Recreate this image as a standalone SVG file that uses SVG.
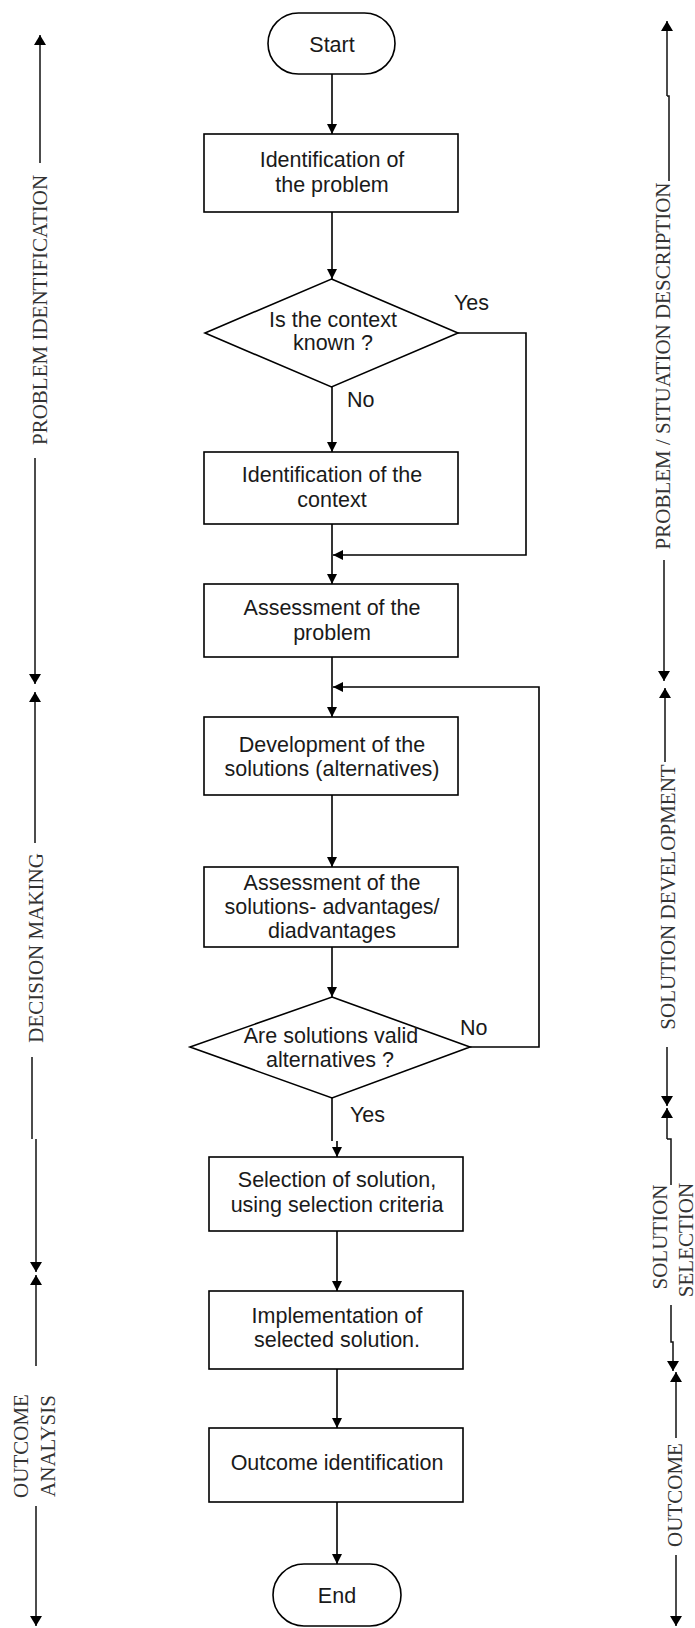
<svg xmlns="http://www.w3.org/2000/svg" width="695" height="1628" viewBox="0 0 695 1628">
<defs>
<marker id="ah" markerUnits="userSpaceOnUse" markerWidth="10" markerHeight="10" refX="10" refY="5" orient="auto"><path d="M0,0 L10,5 L0,10 z" fill="#000"/></marker>
<marker id="sh" markerUnits="userSpaceOnUse" markerWidth="10" markerHeight="12" refX="10" refY="6" orient="auto"><path d="M0,0 L10,6 L0,12 z" fill="#000"/></marker>
<style>
.n{fill:#fff;stroke:#000;stroke-width:1.6}
.t{font-family:"Liberation Sans",Arial,sans-serif;font-size:21.5px;fill:#1a1a1a;text-anchor:middle}
.l{font-family:"Liberation Sans",Arial,sans-serif;font-size:21.5px;fill:#1a1a1a}
.c{fill:none;stroke:#000;stroke-width:1.6}
.a{marker-end:url(#ah)}
.s{fill:none;stroke:#111;stroke-width:1.5}
.sa{marker-end:url(#sh)}
.st{font-family:"Liberation Serif","Times New Roman",serif;font-size:21px;fill:#333;text-anchor:middle}
</style>
</defs>
<g id="start"><rect class="n" x="268" y="13" width="127" height="61" rx="30.5"/><text class="t" x="332" y="52">Start</text></g>
<g id="identify-problem"><rect class="n" x="204" y="134" width="254" height="78"/><text class="t" x="332" y="167">Identification of</text><text class="t" x="332" y="192">the problem</text></g>
<g id="context-known"><polygon class="n" points="331.5,279 458,333 331.5,387 205,333"/><text class="t" x="333" y="327">Is the context</text><text class="t" x="333" y="350">known ?</text></g>
<g id="identify-context"><rect class="n" x="204" y="452" width="254" height="72"/><text class="t" x="332" y="482">Identification of the</text><text class="t" x="332" y="507">context</text></g>
<g id="assess-problem"><rect class="n" x="204" y="584" width="254" height="73"/><text class="t" x="332" y="615">Assessment of the</text><text class="t" x="332" y="640">problem</text></g>
<g id="develop-solutions"><rect class="n" x="204" y="717" width="254" height="78"/><text class="t" x="332" y="752">Development of the</text><text class="t" x="332" y="776">solutions (alternatives)</text></g>
<g id="assess-solutions"><rect class="n" x="204" y="867" width="254" height="80"/><text class="t" x="332" y="890">Assessment of the</text><text class="t" x="332" y="914">solutions- advantages/</text><text class="t" x="332" y="938">diadvantages</text></g>
<g id="solutions-valid"><polygon class="n" points="332,997 470,1047 332,1098 190,1047"/><text class="t" x="331" y="1043">Are solutions valid</text><text class="t" x="330" y="1067">alternatives ?</text></g>
<g id="select-solution"><rect class="n" x="209" y="1157" width="254" height="74"/><text class="t" x="337" y="1187">Selection of solution,</text><text class="t" x="337" y="1212">using selection criteria</text></g>
<g id="implement"><rect class="n" x="209" y="1291" width="254" height="78"/><text class="t" x="337" y="1323">Implementation of</text><text class="t" x="337" y="1347">selected solution.</text></g>
<g id="outcome-id"><rect class="n" x="209" y="1428" width="254" height="74"/><text class="t" x="337" y="1470">Outcome identification</text></g>
<g id="end"><rect class="n" x="273" y="1564" width="128" height="62" rx="31"/><text class="t" x="337" y="1603">End</text></g>
<g id="connectors">
<path class="c a" d="M332,74 V134"/>
<path class="c a" d="M332,212 V279"/>
<path class="c a" d="M332,387 V452"/>
<path class="c a" d="M458,333 H526 V555 H333"/>
<path class="c a" d="M332,524 V584"/>
<path class="c a" d="M332,657 V717"/>
<path class="c a" d="M332,795 V867"/>
<path class="c a" d="M332,947 V997"/>
<path class="c a" d="M470,1047 H539 V687 H333"/>
<path class="c" d="M332,1098 V1141"/>
<path class="c a" d="M337,1141 V1157"/>
<path class="c a" d="M337,1231 V1291"/>
<path class="c a" d="M337,1369 V1428"/>
<path class="c a" d="M337,1502 V1564"/>
<text class="l" x="454" y="310">Yes</text>
<text class="l" x="347" y="407">No</text>
<text class="l" x="460" y="1035">No</text>
<text class="l" x="350" y="1122">Yes</text>
</g>
<g id="left-phases">
<path class="s sa" d="M40,163 V35"/>
<text class="st" transform="translate(47,310) rotate(-90)">PROBLEM IDENTIFICATION</text>
<path class="s sa" d="M35,458 V684"/>
<path class="s sa" d="M35,843 V692"/>
<text class="st" transform="translate(43,948) rotate(-90)">DECISION MAKING</text>
<path class="s" d="M32,1057 V1139"/>
<path class="s sa" d="M36,1139 V1272"/>
<path class="s sa" d="M36,1366 V1275"/>
<text class="st" transform="translate(28,1446) rotate(-90)">OUTCOME</text>
<text class="st" transform="translate(55,1446) rotate(-90)">ANALYSIS</text>
<path class="s sa" d="M36,1506 V1626"/>
</g>
<g id="right-phases">
<path class="s sa" d="M667,96 V21"/>
<path class="s" d="M667,96 H669 V181"/>
<text class="st" transform="translate(670,366) rotate(-90)">PROBLEM / SITUATION DESCRIPTION</text>
<path class="s sa" d="M664,560 V681"/>
<path class="s sa" d="M665,762 V688"/>
<text class="st" transform="translate(675,897) rotate(-90)">SOLUTION DEVELOPMENT</text>
<path class="s sa" d="M667,1047 V1106"/>
<path class="s sa" d="M667,1139 V1108"/>
<path class="s" d="M667,1139 H671 V1185"/>
<text class="st" transform="translate(667,1237) rotate(-90)">SOLUTION</text>
<text class="st" transform="translate(693,1240) rotate(-90)">SELECTION</text>
<path class="s sa" d="M671,1305 V1342 H673 V1371"/>
<path class="s sa" d="M676,1438 V1372"/>
<text class="st" transform="translate(682,1495) rotate(-90)">OUTCOME</text>
<path class="s sa" d="M676,1555 V1626"/>
</g>
</svg>
